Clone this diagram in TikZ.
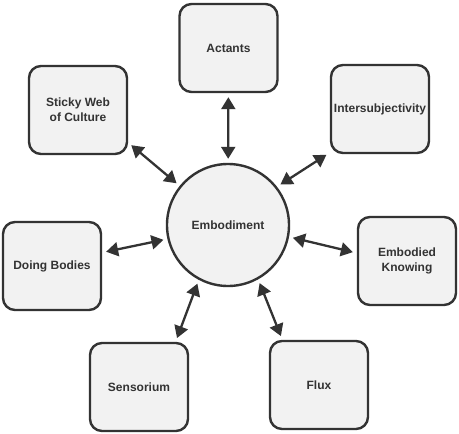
\documentclass[tikz,border=0pt]{standalone}
\usepackage{fontspec}
\setmainfont{Liberation Sans}
\usetikzlibrary{arrows.meta}
\definecolor{edge}{HTML}{333333}
\definecolor{boxfill}{HTML}{F2F2F2}
\definecolor{txt}{HTML}{333333}
\begin{document}
\begin{tikzpicture}[x=1pt,y=-1pt,
  lbl/.style={font=\bfseries\fontsize{12}{15}\selectfont, text=txt, align=center},
  box/.style={lbl, draw=edge, fill=boxfill, line width=2.4pt, rounded corners=12pt,
    minimum width=98pt, minimum height=88pt, inner sep=0pt},
  hub/.style={lbl, draw=edge, fill=boxfill, line width=2.4pt, circle,
    minimum size=122pt, inner sep=0pt},
  link/.style={draw=edge, line width=2.3pt, {Triangle[length=12pt,width=14pt]}-{Triangle[length=12pt,width=14pt]},
    shorten <=4pt, shorten >=4pt}]
\useasboundingbox (0,0) rectangle (459,434);
\node[hub] (emb) at (228,225) {Embodiment};
\node[box] (act) at (228.5,48) {Actants};
\node[box] (sticky) at (78,110) {Sticky Web\\ of Culture};
\node[box] (inter) at (380,109) {Intersubjectivity};
\node[box] (doing) at (52,266) {Doing Bodies};
\node[box] (know) at (407,261) {Embodied\\Knowing};
\node[box] (senso) at (139,387) {Sensorium};
\node[box] (flux) at (319,385) {Flux};
\draw[link] (act) -- (emb);
\draw[link] (sticky.327) -- (emb.141);
\draw[link] (inter.221) -- (emb.38);
\draw[link] (doing.15) -- (emb.193);
\draw[link] (know.171) -- (emb.349);
\draw[link] (senso.51) -- (emb.242);
\draw[link] (flux.129) -- (emb.299);
\end{tikzpicture}
\end{document}
